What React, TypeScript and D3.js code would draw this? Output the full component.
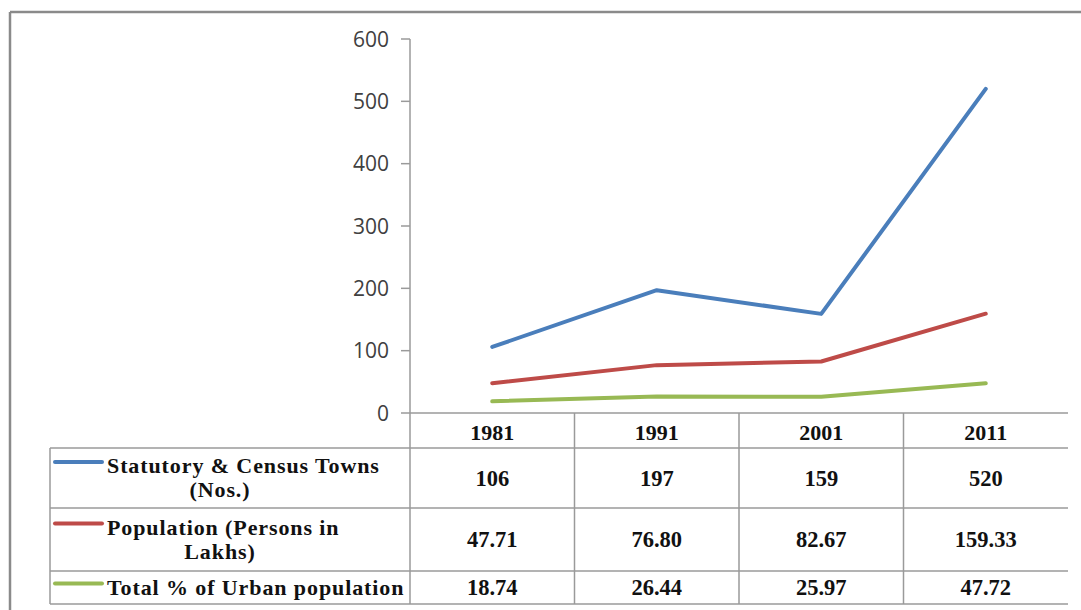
import React from 'react';
import * as d3 from 'd3';

const years = ['1981', '1991', '2001', '2011'];
const towns = [106, 197, 159, 520];
const population = [47.71, 76.8, 82.67, 159.33];
const urbanPct = [18.74, 26.44, 25.97, 47.72];
const yTicks = [0, 100, 200, 300, 400, 500, 600];

const townsText = ['106', '197', '159', '520'];
const populationText = ['47.71', '76.80', '82.67', '159.33'];
const urbanText = ['18.74', '26.44', '25.97', '47.72'];

const seriesLabels = [
  ['Statutory & Census Towns', '(Nos.)'],
  ['Population (Persons in', 'Lakhs)'],
  ['Total % of Urban population'],
];
const colors = ['#4a7ebb', '#be4b48', '#98b954'];

export default function App() {
  const W = 1081;
  const H = 610;
  const plotLeft = 410;
  const plotRight = 1068;
  const plotTop = 39;
  const plotBottom = 413;
  const tableLeft = 50;
  const rowLines = [448, 508, 571, 604];

  const x = d3.scaleBand<string>().domain(years).range([plotLeft, plotRight]);
  const y = d3.scaleLinear().domain([0, 600]).range([plotBottom, plotTop]);
  const cx = (d: string) => (x(d) as number) + x.bandwidth() / 2;

  const line = d3
    .line<number>()
    .x((_, i) => cx(years[i]))
    .y((d) => y(d));

  const series = [towns, population, urbanPct];
  const texts = [townsText, populationText, urbanText];

  const gridColor = '#9a9a9a';
  const serif = '"Liberation Serif", "Times New Roman", serif';

  return (
    <svg
      width={W}
      height={H}
      style={{ position: 'fixed', left: 0, top: 0, background: '#fff' }}
    >
      {/* outer frame */}
      <line x1={10} y1={12} x2={W} y2={12} stroke="#8a8a8a" strokeWidth={2.5} />
      <line x1={10} y1={12} x2={10} y2={H} stroke="#8a8a8a" strokeWidth={2.5} />

      {/* y axis */}
      <line x1={plotLeft} y1={plotTop} x2={plotLeft} y2={rowLines[3]} stroke={gridColor} strokeWidth={1.5} />
      {yTicks.map((t) => (
        <g key={t}>
          <line x1={plotLeft - 9} x2={plotLeft} y1={y(t)} y2={y(t)} stroke={gridColor} strokeWidth={1.5} />
          <text
            x={389}
            y={y(t)}
            dy="0.36em"
            textAnchor="end"
            fontFamily='"Open Sans", sans-serif'
            fontSize={21}
            fill="#404040"
          >
            {t}
          </text>
        </g>
      ))}

      {/* table lines */}
      <line x1={plotLeft} x2={plotRight} y1={plotBottom} y2={plotBottom} stroke={gridColor} strokeWidth={1.5} />
      {rowLines.map((ry) => (
        <line key={ry} x1={tableLeft} x2={plotRight} y1={ry} y2={ry} stroke={gridColor} strokeWidth={1.5} />
      ))}
      <line x1={tableLeft} x2={tableLeft} y1={rowLines[0]} y2={rowLines[3]} stroke={gridColor} strokeWidth={1.5} />
      {years.slice(1).map((yr) => (
        <line
          key={yr}
          x1={x(yr) as number}
          x2={x(yr) as number}
          y1={plotBottom}
          y2={rowLines[3]}
          stroke={gridColor}
          strokeWidth={1.5}
        />
      ))}

      {/* header years */}
      {years.map((yr) => (
        <text
          key={yr}
          x={cx(yr)}
          y={440}
          textAnchor="middle"
          fontFamily={serif}
          fontWeight="bold"
          fontSize={22}
          fill="#111"
        >
          {yr}
        </text>
      ))}

      {/* rows */}
      {series.map((_, si) => {
        const top = rowLines[si];
        const bottom = rowLines[si + 1];
        const mid = (top + bottom) / 2;
        const lines = seriesLabels[si];
        const lh = 24;
        const firstY = mid - ((lines.length - 1) * lh) / 2;
        return (
          <g key={si}>
            <line
              x1={55}
              x2={102}
              y1={firstY - 4}
              y2={firstY - 4}
              stroke={colors[si]}
              strokeWidth={4}
              strokeLinecap="round"
            />
            {lines.map((l, li) => (
              <text
                key={li}
                x={li === 0 ? 107 : 220}
                y={firstY + li * lh}
                dy="0.32em"
                textAnchor={li === 0 ? 'start' : 'middle'}
                fontFamily={serif}
                fontWeight="bold"
                fontSize={22}
                letterSpacing={0.9}
                fill="#111"
              >
                {l}
              </text>
            ))}
            {texts[si].map((v, i) => (
              <text
                key={i}
                x={cx(years[i])}
                y={mid}
                dy="0.34em"
                textAnchor="middle"
                fontFamily={serif}
                fontWeight="bold"
                fontSize={22.5}
                fill="#111"
              >
                {v}
              </text>
            ))}
          </g>
        );
      })}

      {/* series lines */}
      {series.map((s, si) => (
        <path
          key={si}
          d={line(s) as string}
          fill="none"
          stroke={colors[si]}
          strokeWidth={4}
          strokeLinecap="round"
          strokeLinejoin="round"
        />
      ))}
    </svg>
  );
}
